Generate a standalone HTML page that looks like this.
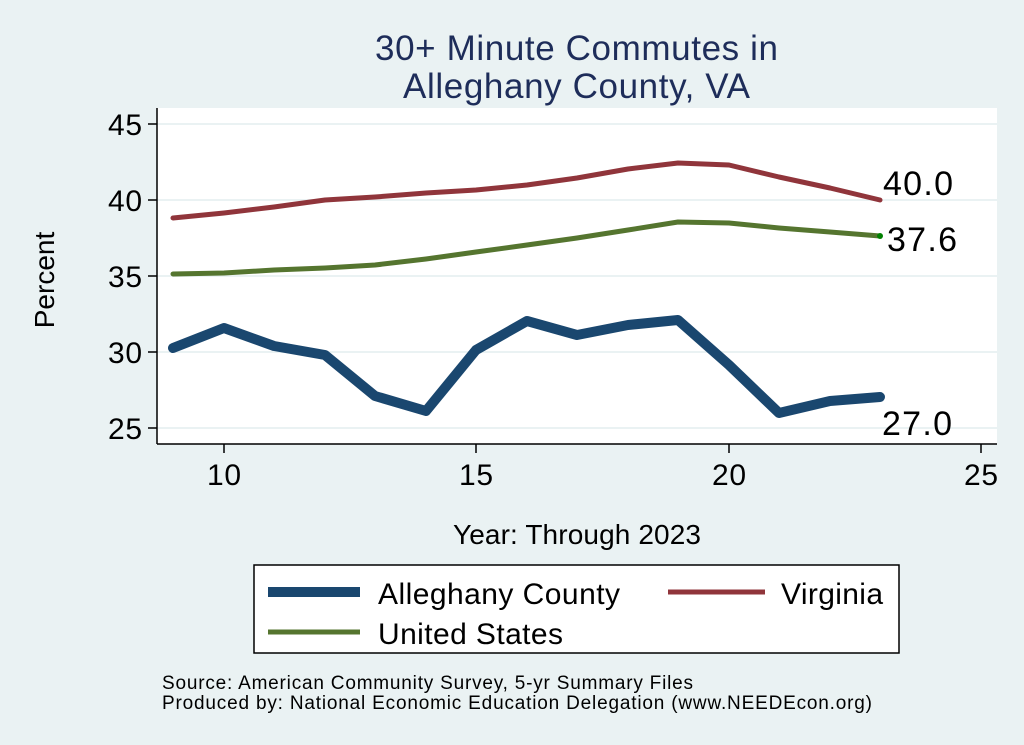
<!DOCTYPE html><html><head><style>body{margin:0;background:#eaf2f3}svg{display:block}text{font-family:"Liberation Sans",Arial,sans-serif;fill:#000}</style></head><body>
<svg width="1024" height="745" viewBox="0 0 1024 745" xmlns="http://www.w3.org/2000/svg">
<rect width="1024" height="745" fill="#eaf2f3"/>
<rect x="157" y="108" width="840" height="336" fill="#fff"/>
<g stroke="#eaf2f3" stroke-width="2">
<line x1="157" y1="124" x2="997" y2="124"/><line x1="157" y1="200" x2="997" y2="200"/><line x1="157" y1="276" x2="997" y2="276"/><line x1="157" y1="352" x2="997" y2="352"/><line x1="157" y1="428" x2="997" y2="428"/></g>
<g stroke="#000" stroke-width="1.5">
<line x1="157" y1="108" x2="157" y2="444"/><line x1="157" y1="444" x2="997" y2="444"/>
<line x1="148" y1="124" x2="157" y2="124"/><line x1="148" y1="200" x2="157" y2="200"/><line x1="148" y1="276" x2="157" y2="276"/><line x1="148" y1="352" x2="157" y2="352"/><line x1="148" y1="428" x2="157" y2="428"/>
<line x1="224" y1="444" x2="224" y2="453"/><line x1="476" y1="444" x2="476" y2="453"/><line x1="729" y1="444" x2="729" y2="453"/><line x1="981" y1="444" x2="981" y2="453"/></g>
<g font-size="30" lengthAdjust="spacingAndGlyphs"><text x="108" y="135" textLength="34">45</text><text x="108" y="211" textLength="34">40</text><text x="108" y="287" textLength="34">35</text><text x="108" y="363" textLength="34">30</text><text x="108" y="439" textLength="34">25</text></g>
<g font-size="30"><text x="207" y="485" textLength="34">10</text><text x="459" y="485" textLength="34">15</text><text x="712" y="485" textLength="34">20</text><text x="964" y="485" textLength="34">25</text></g>
<text x="375" y="60" font-size="35" textLength="403" style="fill:#1e2d5a">30+ Minute Commutes in</text>
<text x="403" y="98" font-size="35" textLength="347" style="fill:#1e2d5a">Alleghany County, VA</text>
<text transform="translate(54,280) rotate(-90)" font-size="28" text-anchor="middle">Percent</text>
<text x="453" y="544" font-size="28" textLength="248">Year: Through 2023</text>
<g fill="none" stroke-linejoin="round" stroke-linecap="round">
<polyline stroke="#90353b" stroke-width="5" points="173,218 224,213 274,207 325,200 375,197 426,193 476,190 527,185 577,178 628,169 678,163 729,165 779,177 830,188 880,200"/>
<polyline stroke="#55752f" stroke-width="5" points="173,274 224,273 274,270 325,268 375,265 426,259 476,252 527,245 577,238 628,230 678,222 729,223 779,228 830,232 880,236"/>
<polyline stroke="#1a476f" stroke-width="10" points="173,348 224,328 274,346 325,355 375,396 426,411 476,350 527,321 577,335 628,325 678,320 729,365 779,413 830,401 880,397"/>
</g>
<circle cx="880" cy="236" r="3" fill="#008000"/>
<g font-size="34"><text x="883" y="195" textLength="70">40.0</text><text x="887" y="251" textLength="70">37.6</text><text x="882" y="435" textLength="70">27.0</text></g>
<rect x="254" y="565" width="645" height="88" fill="#fff" stroke="#000" stroke-width="1.5"/>
<line x1="268" y1="592" x2="360" y2="592" stroke="#1a476f" stroke-width="10"/>
<line x1="668" y1="592" x2="765" y2="592" stroke="#90353b" stroke-width="5"/>
<line x1="268" y1="632" x2="360" y2="632" stroke="#55752f" stroke-width="5"/>
<g font-size="30"><text x="378" y="604" textLength="242">Alleghany County</text><text x="781" y="604" textLength="102">Virginia</text><text x="378" y="644" textLength="185">United States</text></g>
<g font-size="19"><text x="162" y="689" textLength="531">Source: American Community Survey, 5-yr Summary Files</text><text x="162" y="709" textLength="710">Produced by: National Economic Education Delegation (www.NEEDEcon.org)</text></g>
</svg></body></html>
